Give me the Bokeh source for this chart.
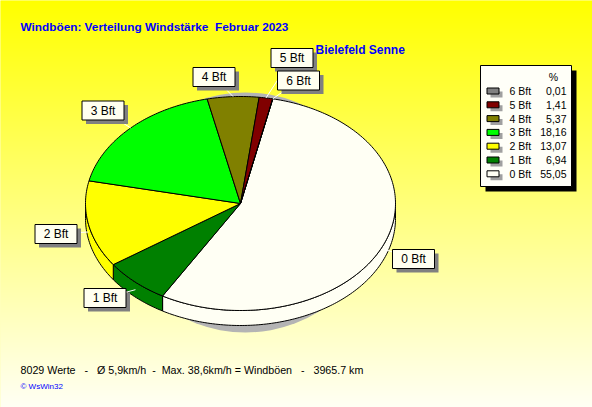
import numpy as np
from bokeh.plotting import figure
from bokeh.models import Range1d
from bokeh.core.properties import value
from bokeh.embed import file_html
from bokeh.resources import INLINE

# ---------------- data ----------------
categories = ["0 Bft", "1 Bft", "2 Bft", "3 Bft", "4 Bft", "5 Bft", "6 Bft"]
percent = [55.05, 6.94, 13.07, 18.16, 5.37, 1.41, 0.01]
colors = ["#FFFFF4", "#008000", "#FFFF00", "#00FF00", "#808000", "#800000", "#808080"]
title_text = "Windböen: Verteilung Windstärke  Februar 2023"
station_text = "Bielefeld Senne"
footer_text = "8029 Werte   -   Ø 5,9km/h  -  Max. 38,6km/h = Windböen   -   3965.7 km"
credit_text = "© WsWin32"


def keep_spaces(t):
    # keep runs of spaces visible in SVG text
    return t.replace("  ", " \u00a0")


# ---------------- layout (reference pixel space) ----------------
W, H = 592, 407
OFF = 0
CX, CY = 240, 203
RX, RY = 155, 107
DEPTH = 15
START = 12.0
label_pos = [(413, 258.5), (104.5, 297.5), (55.5, 233.5), (102.5, 110),
             (213.5, 76.5), (291.5, 57.5), (298, 80)]
FONT = "Liberation Sans"


def dx(X):
    return (X - CX) / RX


def dy(Y):
    return (CY - Y) / RY


p = figure(width=W, height=H, output_backend="svg", toolbar_location=None,
           x_range=Range1d(dx(OFF), dx(OFF + W)), y_range=Range1d(dy(OFF + H), dy(OFF)),
           min_border=0, x_axis_location=None, y_axis_location=None)
p.grid.visible = False
p.outline_line_color = None
p.background_fill_color = "#FFFF80"
p.border_fill_color = "#FFFF80"

# background gradient yellow -> pale cream (extended past the frame edges)
PAD = 6
NR = H + 2 * PAD
img = np.zeros((NR, 1), dtype=np.uint32)
view = img.view(dtype=np.uint8).reshape((NR, 1, 4))
for i in range(NR):
    Yr = OFF + H + PAD - 1 - i + 0.5
    b = int(max(0, min(245, 245 * Yr / 407)))
    view[i, 0, :] = [255, 255, b, 255]
p.image_rgba(image=[img], x=dx(OFF - PAD), y=dy(OFF + H + PAD),
             dw=dx(OFF + W + PAD) - dx(OFF - PAD), dh=dy(OFF - PAD) - dy(OFF + H + PAD))

# title texts
p.text(x=[dx(20)], y=[dy(26)], text=[keep_spaces(title_text)], text_font=value(FONT),
       text_font_style="bold", text_font_size="11.8px", text_color="#0000FF",
       text_align="left", text_baseline="middle")
p.text(x=[dx(315)], y=[dy(49.5)], text=[station_text], text_font=value(FONT),
       text_font_style="bold", text_font_size="12px", text_color="#0000FF",
       text_align="left", text_baseline="middle")

# ---------------- pie ----------------
p.ellipse(x=dx(245), y=dy(212), width=260 / RX, height=240 / RY,
          fill_color="#B4B4B4", line_color=None)

total = 100.0
d = DEPTH / RY
starts, ends = [], []
a = START
for v in percent:
    starts.append(a)
    a = a + v / total * 360.0
    ends.append(a)

side_xs, side_ys, side_c = [], [], []
top_xs, top_ys = [], []
for s, e, c in zip(starts, ends, colors):
    lo, hi = max(s, 90.0), min(e, 270.0)
    if lo < hi:
        th = np.radians(np.linspace(lo, hi, max(3, int(hi - lo) + 2)))
        xs = list(np.sin(th))
        ys = list(np.cos(th))
        side_xs.append(xs + xs[::-1])
        side_ys.append(ys + [y - d for y in ys[::-1]])
        side_c.append(c)
    th = np.radians(np.linspace(s, e, max(3, int(e - s) + 2)))
    top_xs.append([0.0] + list(np.sin(th)))
    top_ys.append([0.0] + list(np.cos(th)))

p.patches(side_xs, side_ys, fill_color=side_c, line_color="black", line_width=1)
p.patches(top_xs, top_ys, fill_color=colors, line_color="black", line_width=1)

# leader lines
x0s, y0s, x1s, y1s = [], [], [], []
for s, e, (lx, ly) in zip(starts, ends, label_pos):
    m = np.radians((s + e) / 2)
    ex, ey = np.sin(m), np.cos(m)
    if ey < 0:
        ey -= d * 0.5
    x0s.append(ex)
    y0s.append(ey)
    x1s.append(dx(lx))
    y1s.append(dy(ly))
p.segment(x0s, y0s, x1s, y1s, line_color="white", line_width=1)

# label boxes
lxs = [dx(x) for x, y in label_pos]
lys = [dy(y) for x, y in label_pos]
sxs = [dx(x + 4) for x, y in label_pos]
sys_ = [dy(y + 4) for x, y in label_pos]
p.rect(x=sxs, y=sys_, width=42, height=19, width_units="screen", height_units="screen",
       fill_color="#808080", line_color=None)
p.rect(x=lxs, y=lys, width=42, height=19, width_units="screen", height_units="screen",
       fill_color="#FFFFF0", line_color="black", line_width=1)
p.text(x=lxs, y=lys, text=categories, text_font=value(FONT), text_font_size="12px",
       text_color="black", text_align="center", text_baseline="middle")

# ---------------- legend ----------------
p.rect(x=[dx(530.5)], y=[dy(130.5)], width=91, height=121, width_units="screen",
       height_units="screen", fill_color="black", line_color=None)
p.rect(x=[dx(525.5)], y=[dy(125.5)], width=91, height=121, width_units="screen",
       height_units="screen", fill_color="#FFFFF8", line_color="black", line_width=1)
p.text(x=[dx(553)], y=[dy(76)], text=["%"], text_font=value(FONT), text_font_size="10.5px",
       text_color="black", text_align="center", text_baseline="middle")
order = list(range(len(categories)))[::-1]
row_y = [90.5 + 13.8 * k for k in range(len(order))]
p.rect(x=[dx(496)] * len(order), y=[dy(yy + 3.5) for yy in row_y], width=12, height=6,
       width_units="screen", height_units="screen", fill_color="#A0A0A0", line_color=None)
p.rect(x=[dx(492.5)] * len(order), y=[dy(yy) for yy in row_y], width=12, height=6,
       width_units="screen", height_units="screen",
       fill_color=[colors[i] for i in order], line_color="black", line_width=1)
p.text(x=[dx(509)] * len(order), y=[dy(yy) for yy in row_y],
       text=[categories[i] for i in order], text_font=value(FONT), text_font_size="10.5px",
       text_color="black", text_align="left", text_baseline="middle")
p.text(x=[dx(566)] * len(order), y=[dy(yy) for yy in row_y],
       text=[f"{percent[i]:.2f}".replace(".", ",") for i in order], text_font=value(FONT),
       text_font_size="10.5px", text_color="black", text_align="right", text_baseline="middle")

# ---------------- footer ----------------
p.text(x=[dx(20)], y=[dy(369.5)], text=[keep_spaces(footer_text)], text_font=value(FONT),
       text_font_size="10.7px", text_color="black", text_align="left", text_baseline="middle")
p.text(x=[dx(20)], y=[dy(386)], text=[credit_text], text_font=value(FONT),
       text_font_size="8px", text_color="#0000FF", text_align="left", text_baseline="middle")

open("out.html", "w").write(file_html(p, INLINE))
